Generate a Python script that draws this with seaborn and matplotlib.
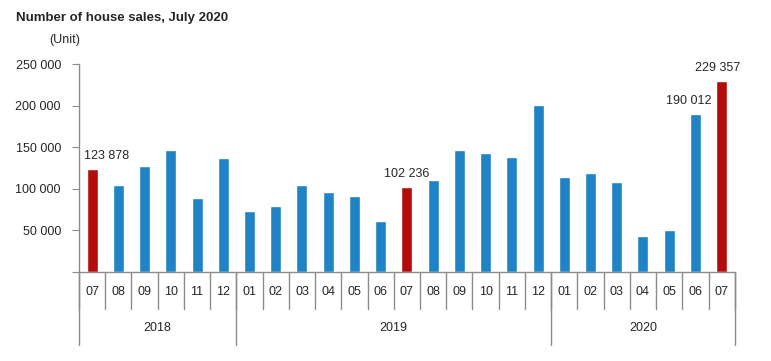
import pandas as pd
import matplotlib.pyplot as plt
import matplotlib.transforms as mtransforms
import seaborn as sns

# Monthly house sales, July 2018 - July 2020
months = ['07', '08', '09', '10', '11', '12',
          '01', '02', '03', '04', '05', '06', '07', '08', '09', '10', '11', '12',
          '01', '02', '03', '04', '05', '06', '07']
years = ['2018'] * 6 + ['2019'] * 12 + ['2020'] * 7
sales = [123878, 104749, 127693, 146905, 88858, 137019,
         72937, 78828, 105084, 96514, 91918, 61769, 102236, 110834, 146766, 143380, 138155, 201011,
         113654, 118753, 108670, 43301, 50936, 190012, 229357]
labelled = {0: 0.55, 12: 0.0, 23: -0.25, 24: -0.15}  # index -> x shift of label

blue = '#1f83c6'
red = '#b20c0c'
grey = '#8c8c8c'

df = pd.DataFrame({'key': [y + '-' + m for y, m in zip(years, months)],
                   'month': months, 'year': years, 'sales': sales})
df['colour'] = [red if m == '07' else blue for m in df['month']]

sns.set_style('white')
plt.rcParams['font.family'] = ['Liberation Sans', 'DejaVu Sans']

fig = plt.figure(figsize=(7.71, 3.61), dpi=100)
ax = fig.add_axes([0.1025, 0.2465, 0.8505, 0.576])

sns.barplot(data=df, x='key', y='sales', hue='key', palette=list(df['colour']),
            legend=False, width=0.42, ax=ax, saturation=1)

ax.set_xlim(-0.5, len(df) - 0.5)
ax.set_ylim(0, 250000)
ax.set_yticks([0, 50000, 100000, 150000, 200000, 250000])
ax.set_yticklabels(['', '50 000', '100 000', '150 000', '200 000', '250 000'], fontsize=9)
ax.set_xticks([])
ax.set_xlabel('')
ax.set_ylabel('')
ax.tick_params(axis='y', left=True, length=5, color=grey, pad=8)

for s in ['top', 'right']:
    ax.spines[s].set_visible(False)
for s in ['left', 'bottom']:
    ax.spines[s].set_color(grey)
    ax.spines[s].set_linewidth(1)

# value labels
for i, dx in labelled.items():
    ax.annotate(f"{sales[i]:,}".replace(',', ' '), (i + dx, sales[i]),
                xytext=(0, 9.5), textcoords='offset points',
                ha='center', va='center', fontsize=9)

# two-level category axis
trans = mtransforms.blended_transform_factory(ax.transData, ax.transAxes)
n = len(df)
for i in range(n + 1):
    ax.plot([i - 0.5, i - 0.5], [0, -0.178], transform=trans, color=grey,
            lw=1, clip_on=False)
for i, m in enumerate(months):
    ax.text(i, -0.096, m, transform=trans, ha='center', va='center', fontsize=9)

bounds = [0]
for i in range(1, n):
    if years[i] != years[i - 1]:
        bounds.append(i)
bounds.append(n)
for b in bounds:
    ax.plot([b - 0.5, b - 0.5], [0, -0.351], transform=trans, color=grey,
            lw=1, clip_on=False)
for a, b in zip(bounds[:-1], bounds[1:]):
    ax.text((a + b - 1) / 2, -0.269, years[a], transform=trans,
            ha='center', va='center', fontsize=9)

fig.text(0.021, 0.95, 'Number of house sales, July 2020', fontsize=9.5,
         fontweight='bold', ha='left', va='center')
fig.text(0.064, 0.889, '(Unit)', fontsize=9, ha='left', va='center')

fig.savefig('out.png', dpi=100)
